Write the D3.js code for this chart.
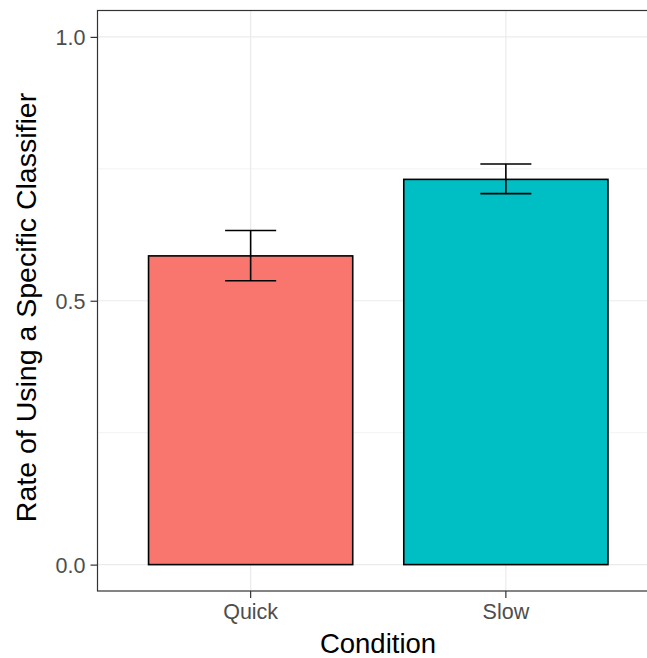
<!DOCTYPE html>
<html>
<head>
<meta charset="utf-8">
<script src="https://cdn.jsdelivr.net/npm/d3@7"></script>
<style>
  body { margin: 0; background: #fff; }
  svg { display: block; font-family: "Liberation Sans", Arial, sans-serif; }
</style>
</head>
<body>
<svg id="chart" width="647" height="658"></svg>
<script>
// data
var conditions = ["Quick", "Slow"];
var rates = [0.585, 0.730];
var errLow = [0.538, 0.703];
var errHigh = [0.633, 0.759];
var fills = ["#F8766D", "#00BFC4"];
var yTicks = [0, 0.5, 1.0];
var yMinor = [0.25, 0.75];

var svg = d3.select("#chart");

// panel runs a bit past the right edge, as in the reference
var panel = {left: 97.5, right: 659, top: 10.5, bottom: 591};

var x = d3.scaleBand()
    .domain(conditions)
    .range([panel.left, panel.right])
    .paddingInner(0.2)
    .paddingOuter(0.2);

var y = d3.scaleLinear()
    .domain([-0.05, 1.05])
    .range([panel.bottom, panel.top]);

var data = conditions.map(function (c, i) {
    return {cond: c, rate: rates[i], lo: errLow[i], hi: errHigh[i], fill: fills[i]};
});

// grid
var grid = svg.append("g");
grid.selectAll("line.minor")
    .data(yMinor)
    .enter().append("line")
    .attr("x1", panel.left).attr("x2", panel.right)
    .attr("y1", function (d) { return y(d); })
    .attr("y2", function (d) { return y(d); })
    .attr("stroke", "#EBEBEB")
    .attr("stroke-width", 0.6);
grid.selectAll("line.major")
    .data(yTicks)
    .enter().append("line")
    .attr("x1", panel.left).attr("x2", panel.right)
    .attr("y1", function (d) { return y(d); })
    .attr("y2", function (d) { return y(d); })
    .attr("stroke", "#EBEBEB")
    .attr("stroke-width", 1.2);
grid.selectAll("line.vmajor")
    .data(conditions)
    .enter().append("line")
    .attr("x1", function (d) { return x(d) + x.bandwidth() / 2; })
    .attr("x2", function (d) { return x(d) + x.bandwidth() / 2; })
    .attr("y1", panel.top).attr("y2", panel.bottom)
    .attr("stroke", "#EBEBEB")
    .attr("stroke-width", 1.2);

// bars
svg.append("g")
    .selectAll("rect")
    .data(data)
    .enter().append("rect")
    .attr("x", function (d) { return x(d.cond); })
    .attr("width", x.bandwidth())
    .attr("y", function (d) { return y(d.rate); })
    .attr("height", function (d) { return y(0) - y(d.rate); })
    .attr("fill", function (d) { return d.fill; })
    .attr("stroke", "#000")
    .attr("stroke-width", 1.6);

// error bars
var whisker = x.step() * 0.1;
var eb = svg.append("g")
    .selectAll("g")
    .data(data)
    .enter().append("g")
    .attr("stroke", "#000")
    .attr("stroke-width", 1.6)
    .attr("fill", "none");
eb.append("path")
    .attr("d", function (d) {
        var cx = x(d.cond) + x.bandwidth() / 2;
        return "M" + (cx - whisker) + "," + y(d.hi) + "H" + (cx + whisker) +
            "M" + cx + "," + y(d.hi) + "V" + y(d.lo) +
            "M" + (cx - whisker) + "," + y(d.lo) + "H" + (cx + whisker);
    });

// panel border
svg.append("rect")
    .attr("x", panel.left).attr("y", panel.top)
    .attr("width", panel.right - panel.left)
    .attr("height", panel.bottom - panel.top)
    .attr("fill", "none")
    .attr("stroke", "#333333")
    .attr("stroke-width", 1.2);

// axes
var yAxis = svg.append("g")
    .attr("transform", "translate(" + panel.left + ",0)")
    .call(d3.axisLeft(y).tickValues(yTicks).tickFormat(d3.format(".1f")).tickSize(7).tickPadding(5));
var xAxis = svg.append("g")
    .attr("transform", "translate(0," + panel.bottom + ")")
    .call(d3.axisBottom(x).tickSize(7).tickPadding(6));

[yAxis, xAxis].forEach(function (a) {
    a.select(".domain").remove();
    a.selectAll(".tick line").attr("stroke", "#333333").attr("stroke-width", 1.2);
    a.selectAll(".tick text")
        .attr("fill", "#4D4D4D")
        .style("font-size", "21.5px")
        .style("font-family", "'Liberation Sans', Arial, sans-serif");
});
yAxis.selectAll(".tick text").attr("dy", "0.36em");
xAxis.selectAll(".tick text").attr("dy", "0.71em");

// titles
svg.append("text")
    .attr("x", 378)
    .attr("y", 653)
    .attr("text-anchor", "middle")
    .style("font-size", "27.5px")
    .attr("fill", "#000")
    .text("Condition");

svg.append("text")
    .attr("transform", "translate(35.5,307.5) rotate(-90)")
    .attr("text-anchor", "middle")
    .style("font-size", "28.5px")
    .attr("fill", "#000")
    .text("Rate of Using a Specific Classifier");
</script>
</body>
</html>
